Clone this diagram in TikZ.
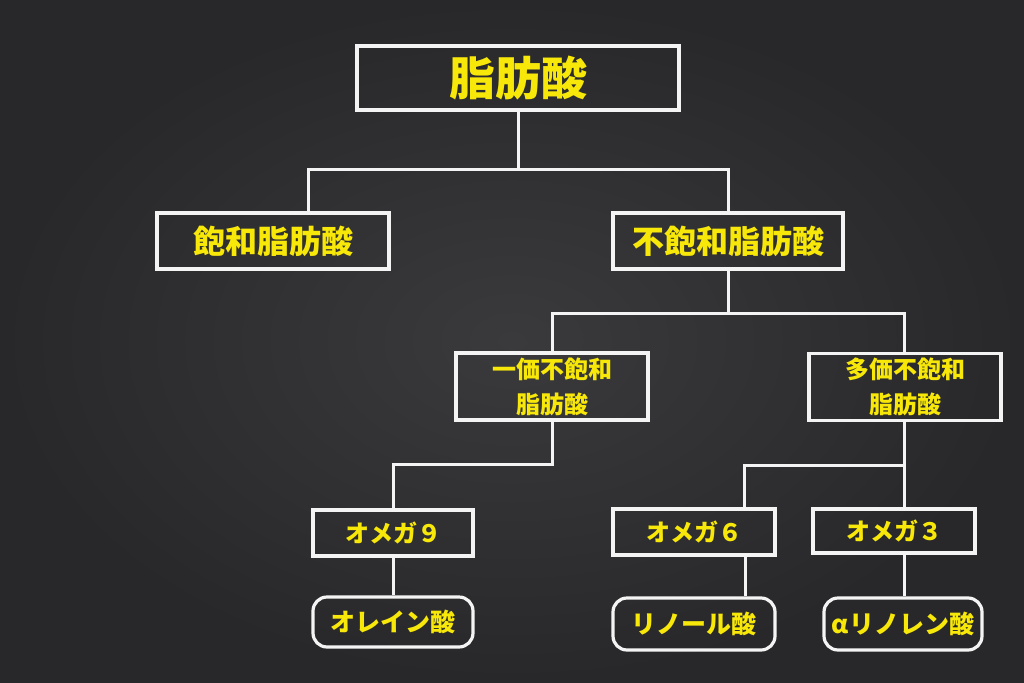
\documentclass[tikz,border=0pt]{standalone}
\usepackage{fontspec}
\setmainfont{Noto Sans CJK JP}[BoldFont={Noto Sans CJK JP Black}]
\usetikzlibrary{calc}
\definecolor{boardlight}{RGB}{58,58,60}
\definecolor{boarddark}{RGB}{40,40,42}
\definecolor{chalkwhite}{RGB}{244,244,244}
\definecolor{chalkyellow}{RGB}{248,232,10}
\tikzset{
  box/.style={draw=chalkwhite, line width=3.2pt, text=chalkyellow, inner sep=0pt, align=center, font=\bfseries},
  rbox/.style={box, rounded corners=14pt},
  conn/.style={draw=chalkwhite, line width=3pt, line join=miter},
}
\begin{document}
\begin{tikzpicture}[x=1pt,y=-1pt]
\useasboundingbox (0,0) rectangle (1024,682);
\shade[inner color=boardlight, outer color=boarddark] (0,0) rectangle (1024,682);
% nodes
\node[box, minimum width=322pt, minimum height=64pt, font=\bfseries\fontsize{46}{50}\selectfont] (top) at (518,78) {脂肪酸};
\node[box, minimum width=232pt, minimum height=56pt, font=\bfseries\fontsize{32}{36}\selectfont] (sat) at (273,241) {飽和脂肪酸};
\node[box, minimum width=230pt, minimum height=56pt, font=\bfseries\fontsize{32}{36}\selectfont] (unsat) at (728,241) {不飽和脂肪酸};
\node[box, minimum width=192pt, minimum height=67pt, font=\bfseries\fontsize{24}{35}\selectfont] (mono) at (552,386.5) {一価不飽和\\脂肪酸};
\node[box, minimum width=192pt, minimum height=67pt, font=\bfseries\fontsize{24}{35}\selectfont] (poly) at (905,387) {多価不飽和\\脂肪酸};
\node[box, minimum width=160pt, minimum height=46pt, font=\bfseries\fontsize{24}{28}\selectfont] (o9) at (393,533) {オメガ９};
\node[box, minimum width=162pt, minimum height=46pt, font=\bfseries\fontsize{24}{28}\selectfont] (o6) at (694,532) {オメガ６};
\node[box, minimum width=162pt, minimum height=44pt, font=\bfseries\fontsize{24}{28}\selectfont] (o3) at (894,531) {オメガ３};
\node[rbox, minimum width=160pt, minimum height=50pt, font=\bfseries\fontsize{25}{28}\selectfont] (ole) at (393,622) {オレイン酸};
\node[rbox, minimum width=162pt, minimum height=52pt, font=\bfseries\fontsize{25}{28}\selectfont] (lin) at (694,624) {リノール酸};
\node[rbox, minimum width=158pt, minimum height=52pt, font=\bfseries\fontsize{25}{28}\selectfont] (ala) at (903,624) {αリノレン酸};
% junctions
\coordinate (j1) at (518,169);
\coordinate (j2) at (728,313);
\coordinate (j3) at (552,464);
\coordinate (j4) at (904,465);
% connectors
\draw[conn] ([xshift=35pt]sat.north) |- (j1) -| (unsat.north);
\draw[conn] (top.south) -- (j1);
\draw[conn] (mono.north) |- (j2) -| ([xshift=-1pt]poly.north);
\draw[conn] (unsat.south) -- (j2);
\draw[conn] (mono.south) -- (j3) -| (o9.north);
\draw[conn] ([xshift=-1pt]poly.south) -- (j4) -| ([xshift=50pt]o6.north);
\draw[conn] (j4) -- ([xshift=10pt]o3.north);
\draw[conn] (o9.south) -- (ole.north);
\draw[conn] ([xshift=51pt]o6.south) -- ([xshift=51pt]lin.north);
\draw[conn] ([xshift=10pt]o3.south) -- ([xshift=1pt]ala.north);
\end{tikzpicture}
\end{document}
